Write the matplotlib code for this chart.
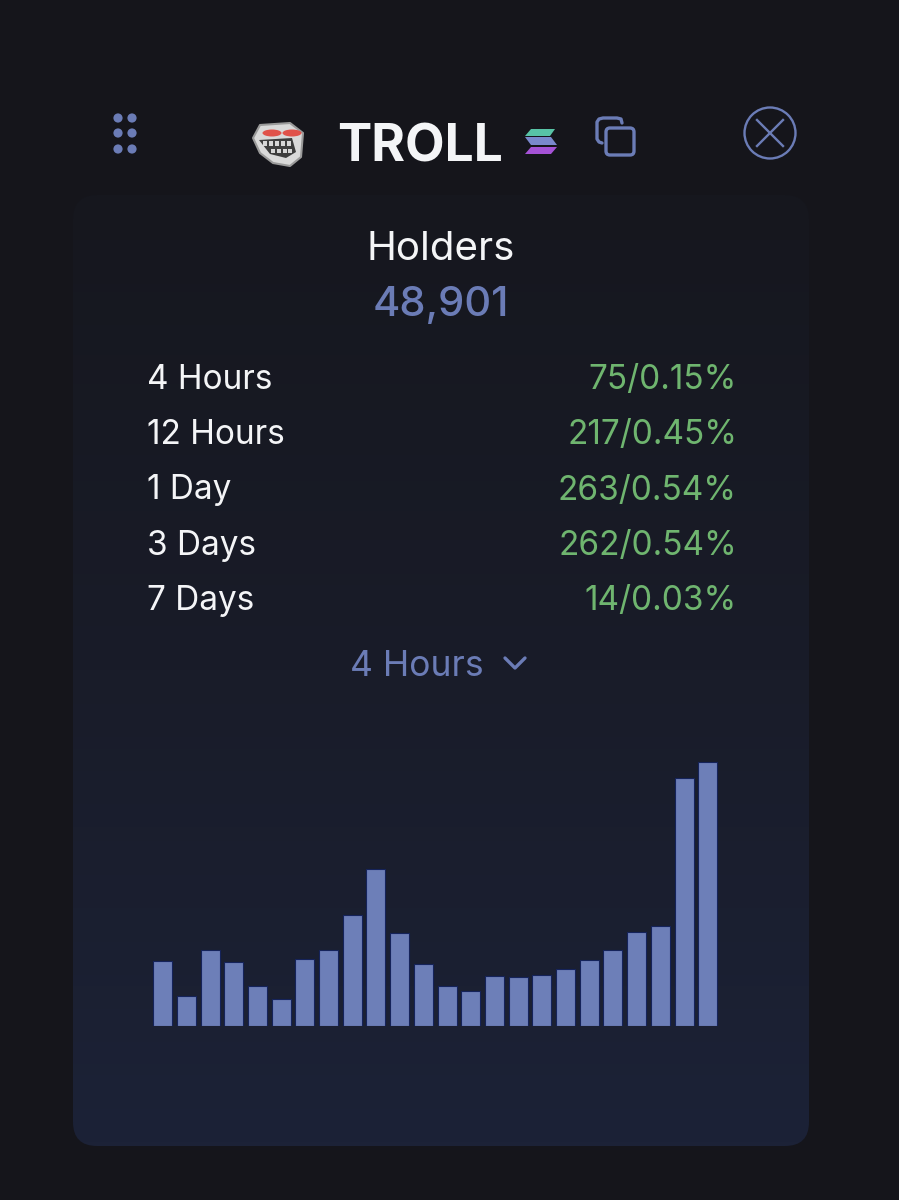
import numpy as np
import matplotlib
matplotlib.use("Agg")
import matplotlib.pyplot as plt
from matplotlib.colors import LinearSegmentedColormap
from matplotlib.patches import Circle, Ellipse, FancyBboxPatch, Polygon, Rectangle

# bar heights
bars = [65, 30, 76, 64, 40, 27, 67, 76, 111, 157, 93, 62, 40, 35, 50, 49, 51, 57, 66, 76, 94, 100, 248, 264]

periods = ["4 Hours", "12 Hours", "1 Day", "3 Days", "7 Days"]
changes = ["75/0.15%", "217/0.45%", "263/0.54%", "262/0.54%", "14/0.03%"]
rows_y = [376.6, 431.6, 487, 542.6, 597.6]

BG = "#15151b"
BLUE = "#6b7cb6"
GREEN = "#6fb56f"
WHITE = "#f4f5f7"
FONT = "Inter"

plt.rcParams["font.family"] = [FONT, "DejaVu Sans"]

fig = plt.figure(figsize=(8.99, 12), dpi=100, facecolor=BG)

# whole figure as pixel canvas for the card and header
bg = fig.add_axes([0, 0, 1, 1])
bg.set_xlim(0, 899)
bg.set_ylim(1200, 0)
bg.axis("off")

# card with vertical gradient, top fades into background
card = FancyBboxPatch((73 + 24, 195 + 24), 736 - 48, 951 - 48, boxstyle="round,pad=24,rounding_size=24",
                      fc="none", ec="none")
bg.add_patch(card)
grad = LinearSegmentedColormap.from_list("card", ["#16171e", "#191c29", "#1c2237"])
img = bg.imshow(np.linspace(0, 1, 256).reshape(-1, 1), cmap=grad, extent=(73, 809, 1146, 195), aspect="auto", zorder=0)
img.set_clip_path(card)
bg.set_xlim(0, 899)
bg.set_ylim(1200, 0)

# drag handle
for x in [118, 132]:
    for y in [118, 133, 149]:
        bg.add_patch(Circle((x, y), 4.6, fc=BLUE, ec="none"))

# troll face icon
face = [(253, 138), (260, 125), (290, 123), (303, 133), (301, 157), (290, 166), (273, 163), (260, 153)]
bg.add_patch(Polygon(face, closed=True, fc="#d9d9d9", ec="#9a9a9a", lw=1.5, joinstyle="round"))
bg.add_patch(Polygon([(259, 140), (292, 138), (296, 152), (286, 158), (270, 154)], fc="#3c3c3c", ec="none"))
for x in [265, 271, 277, 283, 289]:
    bg.add_patch(Rectangle((x - 2, 141), 4, 4.5, fc="#d5d5d5", ec="none"))
for x in [273, 279, 285, 290]:
    bg.add_patch(Rectangle((x - 2, 149), 4, 4, fc="#d5d5d5", ec="none"))
bg.add_patch(Ellipse((272, 133), 19, 7, fc="#e0524a", ec="none"))
bg.add_patch(Ellipse((292, 133), 19, 7, fc="#e0524a", ec="none"))

bg.text(337, 142, "TROLL", color=WHITE, fontsize=37, fontweight="bold", ha="left", va="center_baseline")

# solana logo
bg.add_patch(Polygon([(531, 129), (555, 129), (550, 136), (525, 136)], fc="#58c3a6", ec="none"))
bg.add_patch(Polygon([(525, 137), (551, 137), (557, 145), (531, 145)], fc="#7a88cc", ec="none"))
bg.add_patch(Polygon([(531, 147), (557, 147), (551, 154), (525, 154)], fc="#a552d6", ec="none"))

# copy icon
bg.add_patch(FancyBboxPatch((610, 132), 20, 19, boxstyle="round,pad=4,rounding_size=4", fc="none", ec=BLUE, lw=2.4))
bg.plot([602, 599, 597, 597, 599, 603, 617, 621, 622], [143, 142, 139, 122, 119, 118, 118, 119, 123],
        color=BLUE, lw=2.4, solid_capstyle="round")

# close icon
bg.add_patch(Circle((770, 133), 25.5, fc="none", ec=BLUE, lw=1.7))
bg.plot([757, 783], [120, 146], color=BLUE, lw=1.7)
bg.plot([757, 783], [146, 120], color=BLUE, lw=1.7)

bg.text(441, 245, "Holders", color=WHITE, fontsize=29, ha="center", va="center_baseline")
bg.text(441, 301, "48,901", color=BLUE, fontsize=30, fontweight="medium", ha="center", va="center_baseline")

for label, change, y in zip(periods, changes, rows_y):
    bg.text(147, y, label, color=WHITE, fontsize=24, ha="left", va="center_baseline")
    bg.text(737, y, change, color=GREEN, fontsize=24, ha="right", va="center_baseline")

bg.text(350, 663, "4 Hours", color=BLUE, fontsize=25.5, ha="left", va="center_baseline")
bg.plot([505, 515, 525], [658, 668, 658], color=BLUE, lw=2.4, solid_capstyle="round")

# bar chart on its own axes
ax = fig.add_axes([150.8 / 899, (1200 - 1026) / 1200, 568.8 / 899, 276 / 1200])
ax.patch.set_alpha(0)
ax.bar(range(len(bars)), bars, width=0.8, color="#6d7fb8", edgecolor="#15235a", linewidth=0.8)
ax.set_xlim(-0.5, 23.5)
ax.set_ylim(0, 276)
ax.axis("off")

fig.savefig("out.png", dpi=100, facecolor=BG)
